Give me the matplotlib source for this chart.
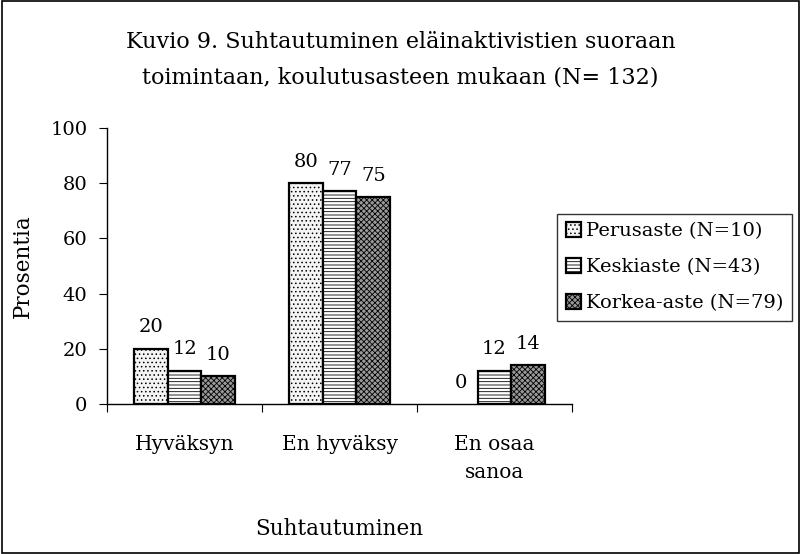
import numpy as np
import matplotlib.pyplot as plt
from matplotlib.patches import Rectangle

plt.rcParams['font.family'] = ['DejaVu Serif']
plt.rcParams['hatch.linewidth'] = 0.6

categories = ["Hyväksyn", "En hyväksy", "En osaa\nsanoa"]
series = ["Perusaste (N=10)", "Keskiaste (N=43)", "Korkea-aste (N=79)"]
values = [
    [20, 80, 0],
    [12, 77, 12],
    [10, 75, 14],
]
hatches = ["....", "-----", "xxxxxx"]
faces = ["#f4f4f4", "white", "#9a9a9a"]

fig = plt.figure(figsize=(8.01, 5.54), dpi=100)
fig.patches.append(Rectangle((0.002, 0.002), 0.996, 0.996, transform=fig.transFigure,
                             fill=False, edgecolor="black", linewidth=1.2))
ax = fig.add_axes([0.1336, 0.2708, 0.5805, 0.4982])

x = np.arange(len(categories))
w = 0.218
for i, s in enumerate(series):
    pos = x + (i - 1) * w
    edges = ["black" if v > 0 else "none" for v in values[i]]
    ax.bar(pos, values[i], width=w, facecolor=faces[i], edgecolor=edges,
           hatch=hatches[i], linewidth=1.6, label=s)
    for p, v in zip(pos, values[i]):
        ax.text(p, v + 4.5, str(v), ha="center", va="bottom", fontsize=14)

ax.set_xlim(-0.5, 2.5)
ax.set_ylim(0, 100)
ax.set_yticks(range(0, 101, 20))
ax.set_xticks([-0.5, 0.5, 1.5, 2.5])
ax.set_xticklabels([])
ax.set_xticks(x, minor=True)
ax.set_xticklabels(categories, minor=True, fontsize=14.5, linespacing=1.6)
ax.tick_params(axis="x", which="minor", length=0, pad=22)
ax.tick_params(axis="x", which="major", length=6, direction="out")
ax.tick_params(axis="y", length=6, direction="out", labelsize=14, pad=8)
for side in ["top", "right"]:
    ax.spines[side].set_visible(False)
for side in ["left", "bottom"]:
    ax.spines[side].set_linewidth(1.0)

ax.set_ylabel("Prosentia", fontsize=15.5, labelpad=12)
ax.set_xlabel("Suhtautuminen", fontsize=15.5, labelpad=26)

fig.text(0.5, 0.892, "Kuvio 9. Suhtautuminen eläinaktivistien suoraan\ntoimintaan, koulutusasteen mukaan (N= 132)",
         ha="center", va="center", fontsize=16, linespacing=1.75)

leg = ax.legend(loc="upper left", bbox_to_anchor=(0.968, 0.69), frameon=True, fancybox=False,
                edgecolor="black", fontsize=14, handlelength=0.8, handleheight=0.8,
                handletextpad=0.25, borderpad=0.45, labelspacing=0.9, borderaxespad=0)
leg.get_frame().set_linewidth(1.0)

fig.savefig("out.png", dpi=100)
